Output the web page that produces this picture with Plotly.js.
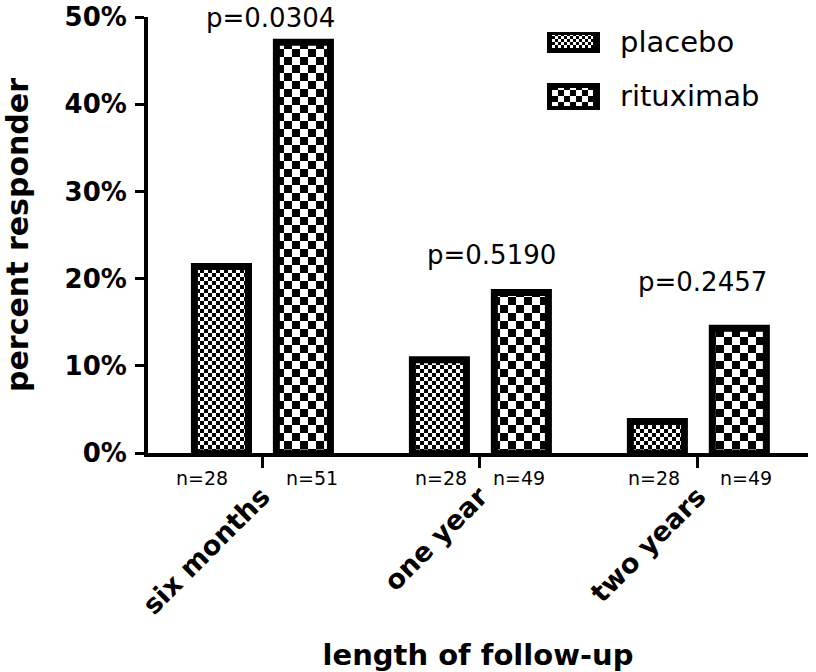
<!DOCTYPE html>
<html>
<head>
<meta charset="utf-8">
<script src="https://cdn.plot.ly/plotly-3.0.1.min.js"></script>
<style>
  html, body { margin: 0; padding: 0; background: #fff; }
  #chart { width: 816px; height: 672px; }
</style>
</head>
<body>
<div id="chart"></div>
<script>
// follow-up periods and responder fractions
const periods = ['six months', 'one year', 'two years'];
const placebo = [0.214, 0.107, 0.036];
const rituximab = [0.471, 0.184, 0.143];
const nPlacebo = [28, 28, 28];
const nRituximab = [51, 49, 49];
const pValues = ['0.0304', '0.5190', '0.2457'];
const yTicks = [0, 0.1, 0.2, 0.3, 0.4, 0.5];

const FONT = 'DejaVu Sans, Arial, sans-serif';

// plot area in pixels (used to place legend boxes and labels)
const L = 148, R = 808, T = 17, B = 453;
const px = x => (x - L) / (R - L);
const py = y => (B - y) / (B - T);

const barWidth = 0.248;

const tracePlacebo = {
    x: periods,
    y: placebo,
    type: 'bar',
    name: 'placebo',
    width: barWidth,
    offset: -0.31,
    marker: { color: '#ffffff', line: { color: '#000', width: 7 } },
    hoverinfo: 'skip'
};

const traceRituximab = {
    x: periods,
    y: rituximab,
    type: 'bar',
    name: 'rituximab',
    width: barWidth,
    offset: 0.066,
    marker: { color: '#ffffff', line: { color: '#000', width: 7 } },
    hoverinfo: 'skip'
};

// n labels under the bars, p values above each group
const nOffP = [-0.275, -0.18, -0.2];
const nOffR = [0.23, 0.18, 0.22];
const pX = [0.04, 1.054, 2.02];
const pY = [0.499, 0.227, 0.196];

let annotations = [];
periods.forEach((p, i) => {
    annotations.push({
        x: i + nOffP[i], y: py(478), xref: 'x', yref: 'paper', yanchor: 'middle',
        text: 'n=' + nPlacebo[i], showarrow: false,
        font: { family: FONT, size: 19, color: '#000' }
    });
    annotations.push({
        x: i + nOffR[i], y: py(478), xref: 'x', yref: 'paper', yanchor: 'middle',
        text: 'n=' + nRituximab[i], showarrow: false,
        font: { family: FONT, size: 19, color: '#000' }
    });
    annotations.push({
        x: pX[i], y: pY[i] / 0.5, xref: 'x', yref: 'paper', yanchor: 'middle',
        text: 'p=' + pValues[i], showarrow: false,
        font: { family: FONT, size: 26, color: '#000' }
    });
});

// legend text
annotations.push({
    x: px(618), y: py(42), xref: 'paper', yref: 'paper', xanchor: 'left', yanchor: 'middle',
    text: 'placebo', showarrow: false,
    font: { family: FONT, size: 29, color: '#000' }
});
annotations.push({
    x: px(618), y: py(96), xref: 'paper', yref: 'paper', xanchor: 'left', yanchor: 'middle',
    text: 'rituximab', showarrow: false,
    font: { family: FONT, size: 29, color: '#000' }
});

// legend swatches: black frame + patterned inside
const box = (x0, y0, x1, y1, fill) => ({
    type: 'rect', xref: 'paper', yref: 'paper',
    x0: px(x0), x1: px(x1), y0: py(y1), y1: py(y0),
    fillcolor: fill, line: { width: 0 }
});
const shapes = [
    box(547, 32, 600, 53, '#000'),
    box(552, 35, 593, 48, '#fff'),
    box(547, 83, 600, 110, '#000'),
    box(552, 88, 593, 106, '#fff')
];

const layout = {
    width: 816,
    height: 672,
    margin: { l: L, r: 816 - R, t: T, b: 672 - B },
    paper_bgcolor: '#fff',
    plot_bgcolor: '#fff',
    showlegend: false,
    barmode: 'overlay',
    font: { family: FONT, color: '#000' },
    xaxis: {
        type: 'category',
        range: [-0.523, 2.505],
        showline: true,
        linewidth: 4,
        linecolor: '#000',
        showgrid: false,
        zeroline: false,
        ticks: 'outside',
        ticklen: 11,
        tickwidth: 3,
        tickcolor: '#000',
        tickangle: -45,
        ticklabelstandoff: 2,
        tickfont: { family: FONT, size: 27, weight: 'bold', color: '#000' },
        layer: 'above traces',
        title: {
            text: 'length of follow-up',
            font: { family: FONT, size: 29, weight: 'bold', color: '#000' },
            standoff: 33
        }
    },
    yaxis: {
        range: [0, 0.5],
        tickvals: yTicks,
        tickformat: '.0%',
        showline: true,
        linewidth: 4,
        linecolor: '#000',
        showgrid: false,
        zeroline: false,
        ticks: 'outside',
        ticklen: 9,
        tickwidth: 3,
        tickcolor: '#000',
        ticklabelstandoff: 3,
        tickfont: { family: FONT, size: 26, weight: 'bold', color: '#000' },
        layer: 'above traces',
        title: {
            text: 'percent responder',
            font: { family: FONT, size: 30, weight: 'bold', color: '#000' },
            standoff: 36
        }
    },
    annotations: annotations,
    shapes: shapes
};

// checkerboard fills, added to the plot svg after drawing
function addChecker(svg, id, cell) {
    const ns = 'http://www.w3.org/2000/svg';
    let defs = svg.querySelector('defs');
    if (!defs) { defs = document.createElementNS(ns, 'defs'); svg.insertBefore(defs, svg.firstChild); }
    const pat = document.createElementNS(ns, 'pattern');
    pat.setAttribute('id', id);
    pat.setAttribute('patternUnits', 'userSpaceOnUse');
    pat.setAttribute('width', 2 * cell);
    pat.setAttribute('height', 2 * cell);
    const bg = document.createElementNS(ns, 'rect');
    bg.setAttribute('width', 2 * cell); bg.setAttribute('height', 2 * cell);
    bg.setAttribute('fill', '#fff');
    pat.appendChild(bg);
    [[0, 0], [cell, cell]].forEach(([x, y]) => {
        const r = document.createElementNS(ns, 'rect');
        r.setAttribute('x', x); r.setAttribute('y', y);
        r.setAttribute('width', cell); r.setAttribute('height', cell);
        r.setAttribute('fill', '#000');
        pat.appendChild(r);
    });
    defs.appendChild(pat);
}

Plotly.newPlot('chart', [tracePlacebo, traceRituximab], layout, { staticPlot: true }).then(gd => {
    const svg = gd.querySelector('.main-svg');
    addChecker(svg, 'chkFine', 4);
    addChecker(svg, 'chkCoarse', 8);
    addChecker(svg, 'chkLegFine', 3);
    addChecker(svg, 'chkLegCoarse', 6);

    const traces = gd.querySelectorAll('.barlayer .trace');
    const fills = ['url(#chkFine)', 'url(#chkCoarse)'];
    traces.forEach((t, i) => {
        t.querySelectorAll('.point path').forEach(p => { p.style.fill = fills[i]; });
    });
    const inner = { 1: 'url(#chkLegFine)', 3: 'url(#chkLegCoarse)' };
    gd.querySelectorAll('.shapelayer path').forEach(p => {
        const k = p.getAttribute('data-index');
        if (inner[k]) p.style.fill = inner[k];
    });
});
</script>
</body>
</html>
